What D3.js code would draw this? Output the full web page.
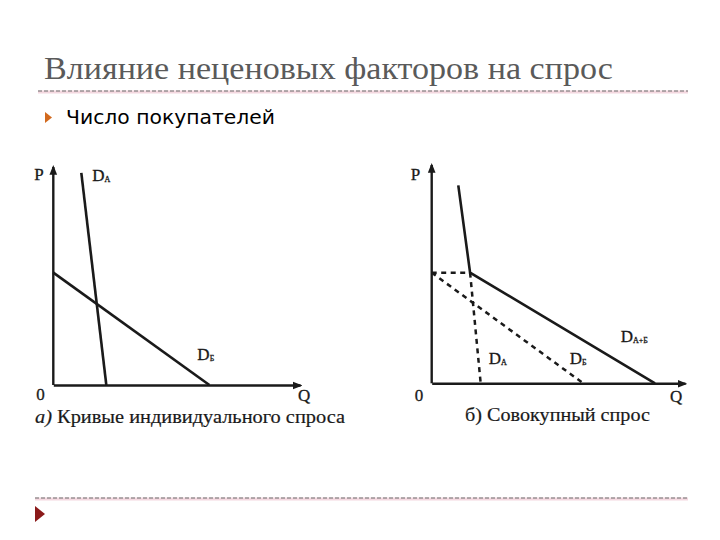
<!DOCTYPE html>
<html>
<head>
<meta charset="utf-8">
<script src="https://cdn.jsdelivr.net/npm/d3@7"></script>
<style>
  body { margin: 0; background: #fff; }
  svg { display: block; }
</style>
</head>
<body>
<svg id="slide" width="720" height="540"></svg>
<script>
// slide texts
const title = "Влияние неценовых факторов на спрос";
const bullet = "Число покупателей";
const captionLeft = ["а)", " Кривые индивидуального спроса"];
const captionRight = "б) Совокупный спрос";

// panel a) individual demand curves, points are [Q, P]
const demandA = [[1.4, 10], [2.65, 0]];
const demandB = [[0, 5.3], [7.8, 0]];

// panel b) market demand, points are [Q, P]
const marketDemand = [[1.33, 9.34], [1.92, 5.22], [11.17, 0]];
const dashedA = [[1.92, 5.22], [2.45, 0]];
const dashedB = [[0, 5.22], [7.58, 0]];
const priceGuide = [[0, 5.22], [1.92, 5.22]];

const svg = d3.select('#slide');
const ink = '#1a1a1a';
const serif = '"Liberation Serif", "DejaVu Serif", serif';

// arrow heads for the axes
const defs = svg.append('defs');
defs.append('marker')
  .attr('id', 'arrow')
  .attr('viewBox', '0 0 10 10')
  .attr('refX', 8).attr('refY', 5)
  .attr('markerWidth', 4).attr('markerHeight', 4)
  .attr('orient', 'auto')
  .append('path')
  .attr('d', 'M0,1 L10,5 L0,9 Z')
  .attr('fill', ink);

// title + separator lines
svg.append('text')
  .attr('x', 44).attr('y', 79)
  .attr('font-family', '"Liberation Serif", serif')
  .attr('font-size', 31)
  .attr('fill', '#5a5a5a')
  .attr('textLength', 569)
  .attr('lengthAdjust', 'spacingAndGlyphs')
  .text(title);

function separator(y, x1, x2) {
  svg.append('line').attr('x1', x1).attr('x2', x2).attr('y1', y + 1).attr('y2', y + 1)
    .attr('stroke', '#f4d8e0').attr('stroke-width', 3);
  svg.append('line').attr('x1', x1).attr('x2', x2).attr('y1', y).attr('y2', y)
    .attr('stroke', '#6b6b6b').attr('stroke-width', 1).attr('stroke-dasharray', '4,2');
}
separator(91, 38, 688);
separator(498, 35, 688);

// bullets
svg.append('path').attr('d', 'M45,112 L52,117.5 L45,123 Z').attr('fill', '#d2691e');
svg.append('text')
  .attr('x', 66).attr('y', 124)
  .attr('font-family', '"DejaVu Sans", sans-serif')
  .attr('font-size', 19)
  .attr('fill', '#000')
  .attr('textLength', 209)
  .attr('lengthAdjust', 'spacingAndGlyphs')
  .text(bullet);
svg.append('path').attr('d', 'M35,506 L45,514 L35,522 Z').attr('fill', '#8b1a1a');

// one panel: axes, curves and labels
function drawPanel(cfg) {
  const x = d3.scaleLinear().domain(cfg.qDomain).range(cfg.xRange);
  const y = d3.scaleLinear().domain(cfg.pDomain).range(cfg.yRange);
  const g = svg.append('g');

  const xAxis = g.append('g')
    .attr('transform', `translate(0,${y(0)})`)
    .call(d3.axisBottom(x).tickValues([]).tickSizeOuter(0));
  const yAxis = g.append('g')
    .attr('transform', `translate(${x(0)},0)`)
    .call(d3.axisLeft(y).tickValues([]).tickSizeOuter(0));
  [xAxis, yAxis].forEach(a => a.select('.domain')
    .attr('stroke', ink).attr('stroke-width', 2.4)
    .attr('marker-end', 'url(#arrow)'));
  // redraw the y domain from bottom to top so the arrow points up
  yAxis.select('.domain').attr('d', `M0,${y(0)}V${y(cfg.pDomain[1])}`);

  const line = d3.line().x(d => x(d[0])).y(d => y(d[1]));
  cfg.solid.forEach(s => g.append('path').attr('d', line(s))
    .attr('fill', 'none').attr('stroke', ink).attr('stroke-width', 2.6));
  cfg.dashed.forEach(s => g.append('path').attr('d', line(s))
    .attr('fill', 'none').attr('stroke', ink).attr('stroke-width', 2.5)
    .attr('stroke-dasharray', '5,4.5'));

  // labels
  const lbl = (tx, ty, text, sub) => {
    const t = g.append('text').attr('x', tx).attr('y', ty)
      .attr('font-family', serif).attr('font-size', 17).attr('fill', ink)
      .attr('stroke', ink).attr('stroke-width', 0.3)
      .text(text);
    if (sub) t.append('tspan').attr('font-size', 8).attr('dy', 1).text(sub);
  };
  cfg.labels.forEach(l => lbl(l.x(x), l.y(y), l.text, l.sub));
  return { x, y };
}

drawPanel({
  qDomain: [0, 12.33], pDomain: [0, 10.28],
  xRange: [53.3, 300], yRange: [385, 167],
  solid: [demandA, demandB], dashed: [],
  labels: [
    { x: x => x(0) - 19, y: y => y(10.28) + 13, text: 'P' },
    { x: x => x(demandA[0][0]) + 11, y: y => y(demandA[0][1]) + 8, text: 'D', sub: 'А' },
    { x: x => x(7.2), y: y => y(1.17), text: 'D', sub: 'Б' },
    { x: x => x(0) - 17, y: y => y(0) + 15, text: '0' },
    { x: x => x(12.33) - 2, y: y => y(0) + 16, text: 'Q' }
  ]
});

drawPanel({
  qDomain: [0, 12.67], pDomain: [0, 10.3],
  xRange: [431.7, 685], yRange: [383.3, 165],
  solid: [marketDemand], dashed: [priceGuide, dashedA, dashedB],
  labels: [
    { x: x => x(0) - 21, y: y => y(10.3) + 15, text: 'P' },
    { x: x => x(2.85), y: y => y(0.9), text: 'D', sub: 'А' },
    { x: x => x(6.9), y: y => y(0.9), text: 'D', sub: 'Б' },
    { x: x => x(9.45), y: y => y(1.93), text: 'D', sub: 'А+Б' },
    { x: x => x(0) - 17, y: y => y(0) + 18, text: '0' },
    { x: x => x(12.67) - 15, y: y => y(0) + 19, text: 'Q' }
  ]
});

// captions
const capL = svg.append('text').attr('x', 35).attr('y', 423)
  .attr('font-family', serif).attr('font-size', 19).attr('fill', ink)
  .attr('stroke', ink).attr('stroke-width', 0.2)
  .attr('textLength', 310).attr('lengthAdjust', 'spacingAndGlyphs');
capL.append('tspan').attr('font-style', 'italic').text(captionLeft[0]);
capL.append('tspan').text(captionLeft[1]);
svg.append('text').attr('x', 465).attr('y', 421)
  .attr('font-family', serif).attr('font-size', 19).attr('fill', ink)
  .attr('stroke', ink).attr('stroke-width', 0.2)
  .attr('textLength', 185).attr('lengthAdjust', 'spacingAndGlyphs')
  .text(captionRight);
</script>
</body>
</html>
